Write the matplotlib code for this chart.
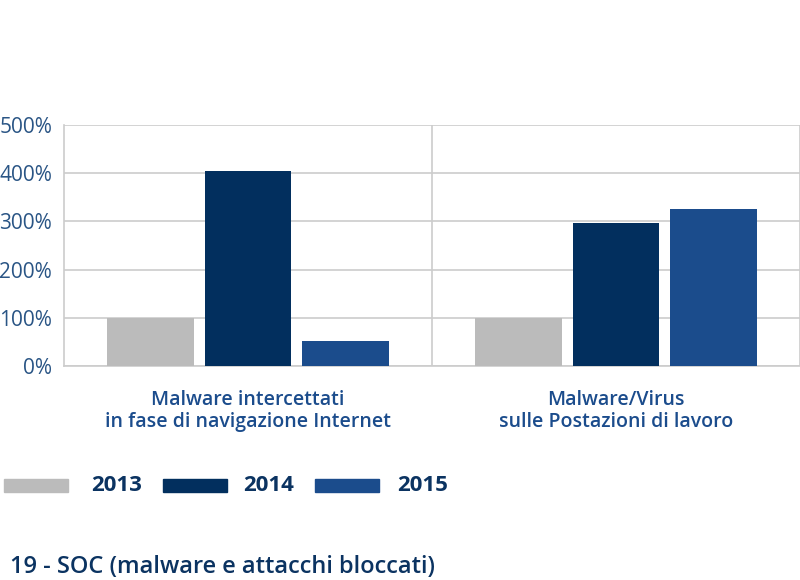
import matplotlib

matplotlib.use("Agg")
import matplotlib.pyplot as plt
from matplotlib.patches import Rectangle
import numpy as np

plt.rcParams["font.family"] = ["Open Sans", "DejaVu Sans"]

categories = ["Malware intercettati\nin fase di navigazione Internet",
              "Malware/Virus\nsulle Postazioni di lavoro"]
years = ["2013", "2014", "2015"]
values = {
    "2013": [100, 100],
    "2014": [405, 296],
    "2015": [52, 325],
}
colors = ["#bbbbbb", "#022f5e", "#1b4c8c"]
yticks = [0, 100, 200, 300, 400, 500]

NAVY = "#0b3361"
TICK = "#2a5585"
GRID = "#cccccc"

fig = plt.figure(figsize=(8, 5.8), dpi=100)
ax = fig.add_axes([0.08, 0.369, 0.92, 0.4155])

x = np.arange(len(categories)) + 0.5
w = 0.236
step = 0.266
for i, (yr, c) in enumerate(zip(years, colors)):
    ax.bar(x + (i - 1) * step, values[yr], width=w, color=c, zorder=3)

ax.set_xlim(0, 2)
ax.set_ylim(0, 500)
ax.set_yticks(yticks)
ax.set_yticklabels([f"{v}%" for v in yticks], fontsize=15, color=TICK)
ax.tick_params(axis="y", length=0, pad=8.5)
ax.set_xticks(x)
ax.set_xticklabels(categories, fontsize=14, fontweight="semibold",
                   color="#1b4c8c", linespacing=1.15)
ax.tick_params(axis="x", length=0, pad=17)
ax.yaxis.grid(True, color=GRID, lw=1.2, zorder=0)
for xv in [1, 2]:
    ax.axvline(xv, color=GRID, lw=1.2, zorder=0)
for s in ["top", "right"]:
    ax.spines[s].set_visible(False)
ax.spines["left"].set_color(GRID)
ax.spines["bottom"].set_color(GRID)
ax.spines["left"].set_linewidth(1.2)
ax.spines["bottom"].set_linewidth(1.2)

# legend drawn by hand in pixel-like figure coords
W, H = 800, 580
patch_x = [4, 163, 315]
text_x = [91, 243, 397]
for yr, c, p, t in zip(years, colors, patch_x, text_x):
    fig.patches.append(Rectangle((p / W, (H - 492) / H), 64 / W, 13 / H,
                                 transform=fig.transFigure, color=c))
    fig.text(t / W, (H - 485.5) / H, yr, fontsize=16, fontweight="bold",
             color=NAVY, va="center", ha="left")

fig.text(10 / W, (H - 567) / H, "19 - SOC (malware e attacchi bloccati)",
         fontsize=17, fontweight="semibold", color=NAVY, va="center", ha="left")

fig.savefig("out.png", dpi=100)
